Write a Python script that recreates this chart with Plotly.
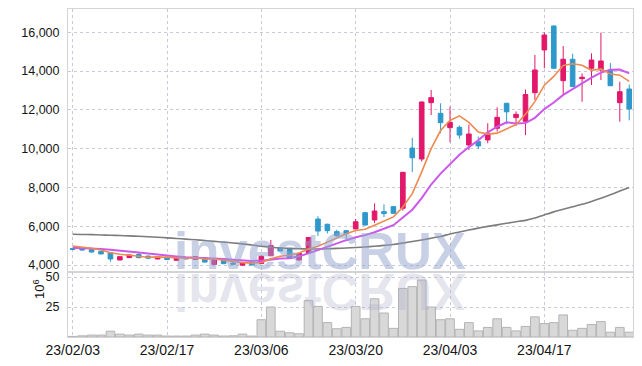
import base64
import plotly.graph_objects as go

# ---------------- data ----------------
dates = ["23/02/03","23/02/06","23/02/07","23/02/08","23/02/09","23/02/10","23/02/13","23/02/14","23/02/15","23/02/16",
         "23/02/17","23/02/20","23/02/21","23/02/22","23/02/23","23/02/24","23/02/27","23/02/28","23/03/02","23/03/03",
         "23/03/06","23/03/07","23/03/08","23/03/09","23/03/10","23/03/13","23/03/14","23/03/15","23/03/16","23/03/17",
         "23/03/20","23/03/21","23/03/22","23/03/23","23/03/24","23/03/27","23/03/28","23/03/29","23/03/30","23/03/31",
         "23/04/03","23/04/04","23/04/05","23/04/06","23/04/07","23/04/10","23/04/11","23/04/12","23/04/13","23/04/14",
         "23/04/17","23/04/18","23/04/19","23/04/20","23/04/21","23/04/24","23/04/25","23/04/26","23/04/27","23/04/28"]

opens = [4850,4830,4790,4700,4630,4260,4380,4540,4460,4310,
         4400,4240,4360,4290,4380,4030,4240,4100,3990,4140,
         4080,4480,4890,4825,4260,4645,6370,6100,5720,5770,
         5860,6700,6320,6750,7010,6925,10030,9466,12370,11820,
         11080,11100,10190,10360,10450,11050,12340,11600,11410,12886,
         15090,16325,13505,14610,13610,14145,14055,14055,12370,13075]
highs = [4900,4860,4800,4710,4640,4440,4530,4660,4480,4460,
         4420,4400,4400,4450,4400,4280,4260,4190,4110,4160,
         4480,5290,4920,4840,4620,5440,6520,6130,5820,5800,
         6370,6740,7180,7130,7040,8800,10560,12430,13025,12340,
         12165,11190,11240,10620,11310,12130,12360,11920,13050,14830,
         16000,16350,15290,14890,13880,14915,15980,14410,13450,13300]
lows = [4760,4750,4640,4560,4170,4240,4370,4350,4300,4300,
        4250,4230,4290,4270,4120,4010,4040,4020,3970,3980,
        4060,4460,4700,4320,4230,4620,5500,5630,5460,5330,
        5840,6040,6160,6470,6640,6800,8790,9330,11735,10790,
        10330,10515,9930,9980,10280,10880,11260,11170,10700,12510,
        14145,14120,12770,13180,12420,13280,13540,13230,11390,11460]
closes = [4800,4780,4670,4570,4310,4430,4520,4380,4350,4430,
          4280,4380,4320,4430,4150,4260,4070,4040,4100,4000,
          4450,5000,4720,4345,4600,5420,5750,5770,5510,5630,
          6230,6060,6785,6650,6665,8780,9530,12406,12630,11340,
          11360,10700,10755,10140,10790,11615,11900,11770,12790,14056,
          15860,14145,14610,13200,13680,14570,14520,13245,12935,12045]

ma5 = [4980,4930,4860,4770,4630,4550,4500,4440,4400,4420,
       4390,4365,4350,4370,4310,4310,4245,4190,4125,4095,
       4130,4320,4455,4505,4620,4820,4970,5180,5410,5615,
       5780,5840,6045,6270,6480,6990,7680,8805,10000,10935,
       11455,11690,11355,10860,10750,10800,11040,11245,11775,12425,
       13275,13725,14290,14375,14300,14040,14115,13845,13790,13465]
ma10 = [4895,4880,4860,4830,4790,4750,4700,4650,4590,4530,
        4480,4440,4400,4385,4370,4350,4310,4275,4250,4210,
        4225,4285,4330,4350,4450,4600,4780,4960,5120,5280,
        5430,5540,5690,5890,6050,6450,6850,7450,8150,8710,
        9220,9685,10080,10430,10840,11130,11360,11300,11320,11590,
        12040,12380,12770,13070,13360,13660,13920,14070,14080,13880]
ma60 = [5585,5575,5565,5550,5535,5520,5500,5480,5455,5430,
        5400,5370,5335,5300,5260,5220,5180,5135,5090,5030,
        4970,4915,4880,4855,4835,4825,4825,4835,4855,4875,
        4900,4930,4965,5010,5060,5130,5210,5290,5380,5470,
        5600,5700,5800,5900,5990,6070,6150,6230,6300,6420,
        6580,6740,6870,7000,7130,7280,7440,7620,7810,8000]

volume = [0.5,1.0,1.6,1.6,4.8,2.4,1.6,2.4,1.6,1.6,
          0.8,0.8,0.8,1.6,2.4,1.6,0.8,1.0,2.4,0.8,
          14.4,25.0,4.8,3.5,2.7,30.5,25.5,12.0,6.9,8.0,
          25.5,15.2,31.9,20.0,7.2,40.5,42.0,47.5,25.0,14.4,
          15.2,6.4,12.0,5.1,8.0,15.2,8.0,5.1,8.8,16.8,
          11.2,12.0,18.4,5.6,7.2,10.4,12.8,4.0,8.0,4.0]

x_tick_labels = ["23/02/03", "23/02/17", "23/03/06", "23/03/20", "23/04/03", "23/04/17"]
price_ticks = [4000, 6000, 8000, 10000, 12000, 14000, 16000]
volume_ticks = [25, 50]
watermark = "investCRUX"

# ---------------- styles ----------------
RED = "#e2186a"
BLUE = "#2f98cb"
GRID = "#c8cad8"
FRAME = "#d4d4d8"
YFONT = dict(family="Liberation Sans, Arial, sans-serif", size=12.5, color="#151515")
XFONT = dict(family="Liberation Sans, Arial, sans-serif", size=14, color="#151515")

W, H = 642, 366
ML, MR, MT, MB = 68, 9, 9, 29
PW, PH = W - ML - MR, H - MT - MB
SPLIT = 272  # px boundary between panes


def px_x(px):
    return (px - ML) / PW


def px_y(py):
    return (H - MB - py) / PH


fig = go.Figure()

fig.add_trace(go.Bar(
    x=dates, y=volume, xaxis="x2", yaxis="y2",
    marker=dict(color="#d8d8d8", line=dict(color="#b4b4b4", width=1)),
    showlegend=False, hoverinfo="skip"))

fig.add_trace(go.Candlestick(
    x=dates, open=opens, high=highs, low=lows, close=closes,
    increasing=dict(line=dict(color=RED, width=1), fillcolor=RED),
    decreasing=dict(line=dict(color=BLUE, width=1), fillcolor=BLUE),
    whiskerwidth=0, showlegend=False))

fig.add_trace(go.Scatter(x=dates, y=ma60, mode="lines",
                         line=dict(color="#7c7c7c", width=1.6, shape="spline", smoothing=0.6),
                         showlegend=False))
fig.add_trace(go.Scatter(x=dates, y=ma10, mode="lines",
                         line=dict(color="#cc58ec", width=2), showlegend=False))
fig.add_trace(go.Scatter(x=dates, y=ma5, mode="lines",
                         line=dict(color="#ee8a50", width=1.6), showlegend=False))

axis_common = dict(showgrid=True, gridcolor=GRID, griddash="dot", gridwidth=1,
                   showline=True, mirror=True, linecolor=FRAME, linewidth=1,
                   zeroline=False, ticks="", automargin=False)

fig.update_layout(
    template="none",
    width=W, height=H,
    margin=dict(l=ML, r=MR, t=MT, b=MB),
    paper_bgcolor="white", plot_bgcolor="white",
    bargap=0.08, showlegend=False,
    xaxis=dict(type="category", range=[-0.5, 59.4], anchor="y",
               tickvals=x_tick_labels, showticklabels=False,
               rangeslider=dict(visible=False), **axis_common),
    xaxis2=dict(type="category", matches="x", anchor="y2",
                tickvals=x_tick_labels, ticktext=x_tick_labels,
                tickfont=XFONT, **axis_common),
    yaxis=dict(domain=[px_y(SPLIT), 1], range=[3639, 17201],
               tickvals=price_ticks, tickformat=",", ticklabelstandoff=5,
               tickfont=YFONT, **axis_common),
    yaxis2=dict(domain=[0, px_y(SPLIT)], range=[0, 54.2],
                tickvals=volume_ticks, ticklabelstandoff=5,
                tickfont=YFONT, **axis_common),
)

# volume unit label
fig.add_annotation(text="10<sup>6</sup>", xref="paper", yref="paper",
                   x=px_x(29), y=px_y(301), textangle=-90, showarrow=False,
                   font=dict(YFONT, size=13))

# watermark
wm_cx, wm_base, wm_size = 320, 270, 51
fig.add_annotation(text="<b>%s</b>" % watermark, xref="paper", yref="paper",
                   x=px_x(wm_cx), y=px_y(wm_base + 12), xanchor="center", yanchor="bottom",
                   showarrow=False,
                   font=dict(family="Liberation Sans, Arial, sans-serif", size=wm_size,
                             color="rgba(145,162,205,0.5)"))

# mirrored reflection of the watermark (graphic effect)
img_h = H - MB - SPLIT
svg = (
    '<svg xmlns="http://www.w3.org/2000/svg" width="%d" height="%d" viewBox="0 0 %d %d" '
    'preserveAspectRatio="none">'
    '<g transform="translate(%g,%g) scale(1,-1)">'
    '<text x="0" y="0" text-anchor="middle" font-family="Liberation Sans, Arial, sans-serif" '
    'font-weight="bold" font-size="%d" fill="rgba(170,172,200,0.32)">%s</text></g></svg>'
) % (PW, img_h, PW, img_h, wm_cx - ML, (2 * SPLIT - wm_base) - SPLIT, wm_size, watermark)
src = "data:image/svg+xml;base64," + base64.b64encode(svg.encode()).decode()
fig.add_layout_image(source=src, xref="paper", yref="paper", x=0, y=px_y(SPLIT),
                     sizex=1, sizey=img_h / PH, xanchor="left", yanchor="top",
                     sizing="stretch", layer="above")

fig.write_html("out.html", config={"displayModeBar": False},
               post_script="document.body.style.margin='0';document.body.style.overflow='hidden';")
